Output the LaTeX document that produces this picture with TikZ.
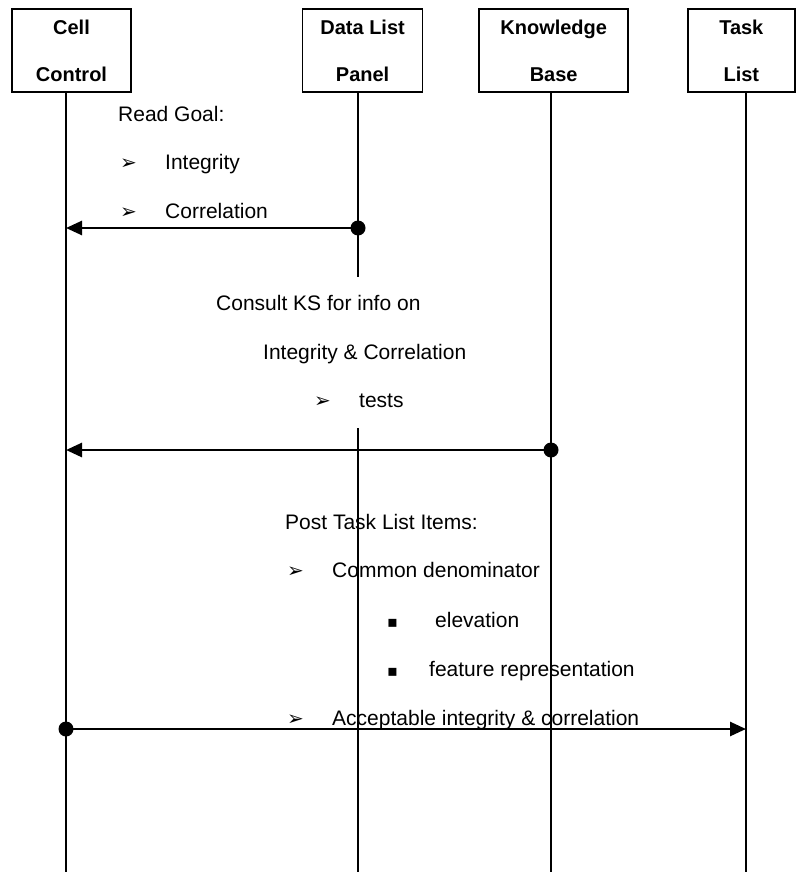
\documentclass[tikz,border=0pt]{standalone}
\usepackage{fontspec}
\setmainfont{Liberation Sans}
\newfontfamily\symfont{DejaVu Sans}
\usepackage{tikz}
\usetikzlibrary{arrows.meta, positioning}

\newcommand{\arrbullet}[1][45bp]{\makebox[#1][l]{\symfont\fontsize{20bp}{20bp}\selectfont ➢}}
\newcommand{\sqbullet}[1][45bp]{\makebox[#1][l]{\symfont\fontsize{16bp}{16bp}\selectfont ▪}}

\begin{document}
\begin{tikzpicture}[x=1bp, y=-1bp]
\tikzstyle{actor} = [rectangle, draw, line width=1.6bp, minimum height=83bp, align=center, font=\fontsize{20bp}{47bp}\selectfont\bfseries]
\tikzstyle{lifeline} = [line width=1.6bp]
\tikzstyle{msg} = [line width=2.6bp, -{Triangle[length=16bp, width=14bp]}]
\tikzstyle{note} = [anchor=base west, inner sep=0pt, font=\fontsize{21bp}{25bp}\selectfont]

\useasboundingbox (0,0) rectangle (796,872);

% header boxes
\node (cell) [actor, minimum width=119bp] at (71.5,50.5) {Cell\\Control};
\node (panel) [actor, minimum width=120bp, right=170bp of cell] {Data List\\Panel};
\node (kb) [actor, minimum width=149bp, right=55bp of panel] {Knowledge\\Base};
\node (task) [actor, minimum width=107bp, right=58bp of kb] {Task\\List};

% lifelines
\coordinate (cellEnd) at (66,872);
\coordinate (panelGapTop) at (358,277);
\coordinate (panelGapBot) at (358,428);
\coordinate (panelEnd) at (358,872);
\coordinate (kbEnd) at (551,872);
\coordinate (taskEnd) at (746,872);
\draw [lifeline] (cell.south -| cellEnd) -- (cellEnd);
\draw [lifeline] (panel.south -| panelEnd) -- (panelGapTop);
\draw [lifeline] (panelGapBot) -- (panelEnd);
\draw [lifeline] (kb.south -| kbEnd) -- (kbEnd);
\draw [lifeline] (task.south -| taskEnd) -- (taskEnd);

% messages
\coordinate (goalFrom) at (358,228);
\coordinate (goalTo) at (66,228);
\coordinate (testsFrom) at (551,450);
\coordinate (testsTo) at (66,450);
\coordinate (postFrom) at (66,729);
\coordinate (postTo) at (746,729);
\draw [msg] (goalFrom) -- (goalTo);
\fill (goalFrom) circle (7.5bp);
\draw [msg] (testsFrom) -- (testsTo);
\fill (testsFrom) circle (7.5bp);
\draw [msg] (postFrom) -- (postTo);
\fill (postFrom) circle (7.5bp);

% notes
\node (readgoal) [note] at (118,121) {Read Goal:};
\node (goalint) [note] at (120,169) {\arrbullet Integrity};
\node (goalcorr) [note] at (120,218) {\arrbullet Correlation};
\node (consult) [note] at (216,310) {Consult KS for info on};
\node (intcorr) [note] at (263,359) {Integrity \& Correlation};
\node (tests) [note] at (314,407) {\arrbullet tests};
\node (post) [note] at (285,529) {Post Task List Items:};
\node (common) [note] at (287,577) {\arrbullet Common denominator};
\node (elev) [note] at (387,627) {\sqbullet[48bp]elevation};
\node (feat) [note] at (387,676) {\sqbullet[42bp]feature representation};
\node (accept) [note] at (287,725) {\arrbullet Acceptable integrity \& correlation};

\end{tikzpicture}
\end{document}
